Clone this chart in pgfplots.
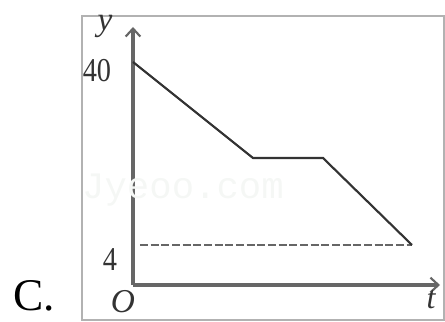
\documentclass[border=0pt]{standalone}
\usepackage{pgfplots}
\pgfplotsset{compat=1.18}
\usepackage{fontspec}
\setmainfont{Liberation Serif}
\newfontfamily\monofont{Liberation Mono}
\usetikzlibrary{arrows.meta}
\begin{document}
\begin{tikzpicture}
\begin{axis}[
  scale only axis, width=230.25pt, height=193.5pt,
  xmin=133, xmax=440, ymin=0, ymax=258,
  axis lines=left,
  x axis line style={line width=2.4pt, draw=black!60, -{Straight Barb[length=6pt,width=11pt,line width=1.6pt]}},
  y axis line style={line width=2.4pt, draw=black!60, -{Straight Barb[length=6pt,width=11pt,line width=1.6pt]}},
  xtick=\empty, ytick=\empty,
  clip=false,
]
\path (axis cs:0,285) (axis cs:445,-36);
\draw[black!30, line width=0.9pt] (axis cs:82,269) rectangle (axis cs:444,-35);
\node[text=green!20!black!4, font=\monofont\fontsize{28}{28}\selectfont] at (axis cs:183,95) {Jyeoo.com};
\addplot[black!60, line width=1.5pt, dash pattern=on 6pt off 2pt] coordinates {(140,40) (412,40)};
\addplot[black!80, line width=1.6pt] coordinates {(133,223) (253,127) (323,127) (412,40)};
\node[font=\fontsize{25}{25}\selectfont, text=black!80, xscale=0.85] at (axis cs:97,214) {40};
\node[font=\fontsize{25}{25}\selectfont, text=black!80, xscale=0.85] at (axis cs:110,25) {4};
\node[font=\itshape\fontsize{25}{25}\selectfont, text=black!80] at (axis cs:123,-17) {O};
\node[font=\itshape\fontsize{25}{25}\selectfont, text=black!80] at (axis cs:105,259) {y};
\node[font=\itshape\fontsize{24}{24}\selectfont, text=black!80] at (axis cs:431,-15) {t};
\node[font=\fontsize{34}{34}\selectfont, anchor=base, inner sep=0pt] at (axis cs:34,-25) {C.};
\end{axis}
\end{tikzpicture}
\end{document}
